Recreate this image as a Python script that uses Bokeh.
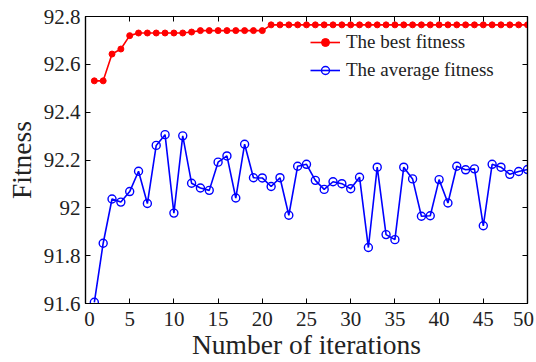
from bokeh.plotting import figure
from bokeh.models import (LinearAxis, FixedTicker, CustomJSTickFormatter, Legend,
                          LegendItem, Range1d, ColumnDataSource)
from bokeh.core.properties import value
from bokeh.embed import file_html
from bokeh.resources import INLINE

iterations = list(range(1, 51))

best_fitness = [
    92.531, 92.531, 92.643, 92.664, 92.720, 92.731, 92.731, 92.731, 92.731, 92.731,
    92.731, 92.735, 92.741, 92.741, 92.741, 92.741, 92.741, 92.741, 92.741, 92.741,
    92.765, 92.765, 92.765, 92.765, 92.765, 92.765, 92.765, 92.765, 92.765, 92.765,
    92.765, 92.765, 92.765, 92.765, 92.765, 92.765, 92.765, 92.765, 92.765, 92.765,
    92.765, 92.765, 92.765, 92.765, 92.765, 92.765, 92.765, 92.765, 92.765, 92.765,
]

average_fitness = [
    91.605, 91.852, 92.037, 92.024, 92.068, 92.153, 92.018, 92.261, 92.306, 91.978,
    92.301, 92.103, 92.083, 92.073, 92.191, 92.217, 92.041, 92.266, 92.126, 92.125,
    92.089, 92.126, 91.969, 92.174, 92.182, 92.115, 92.077, 92.109, 92.101, 92.080,
    92.128, 91.834, 92.170, 91.888, 91.867, 92.170, 92.121, 91.965, 91.967, 92.118,
    92.020, 92.174, 92.159, 92.163, 91.925, 92.182, 92.170, 92.140, 92.152, 92.160,
]

x_ticks = [0, 5, 10, 15, 20, 25, 30, 35, 40, 45, 50]
x_tick_labels = ["0", "5", "10", "15", "20", "25", "30", "35", "40", "45", "50"]
y_ticks = [91.6, 91.8, 92.0, 92.2, 92.4, 92.6, 92.8]
y_tick_labels = ["91.6", "91.8", "92", "92.2", "92.4", "92.6", "92.8"]

X_MIN, X_MAX = 0, 50
Y_MIN, Y_MAX = 91.6, 92.8

FONT = "Liberation Serif"
TEXT = "#222222"

p = figure(width=536, height=362, output_backend="svg", toolbar_location=None,
           x_range=Range1d(X_MIN, X_MAX), y_range=Range1d(Y_MIN, Y_MAX),
           min_border_left=85, min_border_right=9, min_border_top=16,
           min_border_bottom=58)

p.background_fill_color = "white"
p.border_fill_color = "white"
p.outline_line_color = "black"
p.outline_line_width = 1.2
p.grid.visible = False

blank = CustomJSTickFormatter(code="return '';")

# mirrored top/right axes carry only inward ticks
for loc, ticks in (("right", y_ticks), ("above", x_ticks)):
    p.add_layout(LinearAxis(ticker=FixedTicker(ticks=ticks), formatter=blank), loc)

p.axis.formatter = blank
p.axis.major_label_text_font_size = "0px"
p.axis.major_label_standoff = 0
p.axis.major_tick_in = 5
p.axis.major_tick_out = 0
p.axis.minor_tick_line_color = None
p.axis.axis_line_color = "black"
p.axis.axis_line_width = 1.2
p.axis.major_tick_line_color = "black"

bottom, left = p.below[0], p.left[0]
bottom.ticker = FixedTicker(ticks=x_ticks)
left.ticker = FixedTicker(ticks=y_ticks)
for ax in (bottom, left):
    ax.axis_label_text_font = FONT
    ax.axis_label_text_font_size = "27.5px"
    ax.axis_label_text_font_style = "normal"
    ax.axis_label_text_color = TEXT
    ax.axis_label_text_line_height = 1.0
bottom.axis_label = "Number of iterations"
left.axis_label = "Fitness"
bottom.axis_label_standoff = 25
left.axis_label_standoff = 49

# tick labels in the serif face, placed at the tick positions;
# the two end labels are nudged inward so they stay on the page
nudge = [0] * len(x_ticks)
nudge[0], nudge[-1] = 4, -4
x_lab = ColumnDataSource(dict(x=x_ticks, y=[Y_MIN] * len(x_ticks),
                              text=x_tick_labels, dx=nudge))
p.text(x="x", y="y", text="text", source=x_lab, x_offset="dx",
       text_align="center", text_baseline="top", y_offset=8,
       text_font=value(FONT), text_font_size=value("21px"), text_color=TEXT,
       level="overlay")
p.text(x=[X_MIN] * len(y_ticks), y=y_ticks, text=y_tick_labels,
       text_align="right", text_baseline="middle", x_offset=-5,
       text_font=value(FONT), text_font_size=value("21px"), text_color=TEXT,
       level="overlay")

# best fitness: red line with filled dots
best_line = p.line(iterations, best_fitness, line_color="#ff0000", line_width=1.6)
best_pts = p.scatter(iterations, best_fitness, marker="circle", size=6,
                     fill_color="#ff0000", line_color="#ff0000")

# average fitness: blue line with open circles
avg_line = p.line(iterations, average_fitness, line_color="#0000ff", line_width=1.6)
avg_pts = p.scatter(iterations, average_fitness, marker="circle", size=8,
                    fill_color=None, line_color="#0000ff", line_width=1.4)

legend = Legend(items=[
    LegendItem(label="The best fitness", renderers=[best_line, best_pts]),
    LegendItem(label="The average fitness", renderers=[avg_line, avg_pts]),
], location=(225, 222))
legend.border_line_color = None
legend.background_fill_alpha = 0
legend.label_text_font = FONT
legend.label_text_font_size = "19px"
legend.label_text_color = TEXT
legend.glyph_width = 30
legend.label_standoff = 6
legend.spacing = 6
legend.padding = 2
legend.margin = 0
p.add_layout(legend, "center")

open("out.html", "w").write(file_html(p, INLINE))
